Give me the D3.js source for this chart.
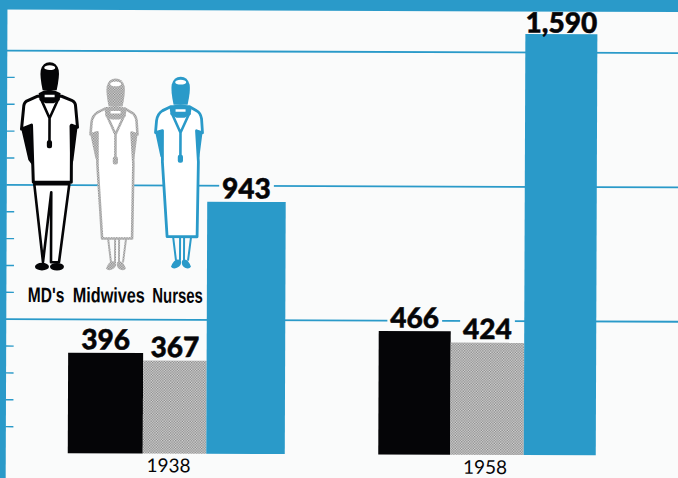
<!DOCTYPE html>
<html>
<head>
<meta charset="utf-8">
<script src="https://cdn.jsdelivr.net/npm/d3@7"></script>
<style>
  html, body { margin: 0; padding: 0; background: #fafbfb; }
  svg { display: block; }
</style>
</head>
<body>
<script>
// data
var years = ["1938", "1958"];
var categories = ["MD's", "Midwives", "Nurses"];
var values1938 = [396, 367, 943];
var values1958 = [466, 424, 1590];
var gridValues = [500, 1000, 1500];
var minorValues = [100, 200, 300, 400, 600, 700, 800, 900, 1100, 1200, 1300, 1400];

var width = 678, height = 478;
var blue = "#2a9ac9", paper = "#fafbfb", ink = "#050507";

var svg = d3.select("body").append("svg")
    .attr("width", width)
    .attr("height", height);

// the checker screen used for the midwives
var defs = svg.append("defs");
var screen = defs.append("pattern")
    .attr("id", "screen")
    .attr("width", 2.6)
    .attr("height", 2.6)
    .attr("patternUnits", "userSpaceOnUse");
screen.append("rect").attr("width", 2.6).attr("height", 2.6).attr("fill", "#d8d8d8");
screen.append("rect").attr("width", 1.3).attr("height", 1.3).attr("fill", "#868686");
screen.append("rect").attr("x", 1.3).attr("y", 1.3).attr("width", 1.3).attr("height", 1.3).attr("fill", "#868686");

var colors = d3.scaleOrdinal(categories, [ink, "url(#screen)", blue]);

// the page was scanned slightly crooked
var g = svg.append("g").attr("transform", "rotate(0.22)");

// printed axis: the rules keep 100 units per step
var yAxis = d3.scaleLinear().domain([0, 1500]).range([453, 50]);

g.append("g")
    .attr("transform", "translate(7,0)")
    .call(d3.axisRight(yAxis).tickValues(minorValues).tickSize(8).tickFormat(""))
    .call(function(a) { a.select(".domain").remove(); })
    .selectAll("line").attr("stroke", blue).attr("stroke-width", 1.4);

g.append("g")
    .attr("transform", "translate(7,0)")
    .call(d3.axisRight(yAxis).tickValues(gridValues).tickSize(680).tickFormat(""))
    .call(function(a) { a.select(".domain").remove(); })
    .selectAll("line").attr("stroke", blue).attr("stroke-width", 1.8);

// the bars do not sit exactly on the printed rules, so each group gets its own scale
var yBars = {
  "1938": d3.scaleLinear().domain([0, 396, 943]).range([453, 352.5, 201]),
  "1958": d3.scaleLinear().domain([0, 1590]).range([453, 32])
};
// bar edges by index, the 1938 widths are uneven
var xBars = {
  "1938": d3.scaleLinear().domain([0, 1, 2, 3]).range([69.5, 144.5, 208, 286.5]),
  "1958": d3.scaleLinear().domain([0, 1, 2, 3]).range([380, 452, 525.5, 597.5])
};
var yearValues = { "1938": values1938, "1958": values1958 };
var yearOffsets = d3.scaleOrdinal(years, [[-6, 471.5], [-2, 472]]);

var maskLayer = g.append("g");
var barLayer = g.append("g");

// frame goes over the label masks
g.append("rect").attr("x", -10).attr("y", -10).attr("width", width + 20).attr("height", 19.5).attr("fill", blue);
g.append("rect").attr("x", -10).attr("y", -10).attr("width", 17.5).attr("height", height + 20).attr("fill", blue);

var textLayer = g.append("g");

years.forEach(function(year) {
  var x = xBars[year], y = yBars[year];

  barLayer.selectAll(".bar" + year)
    .data(yearValues[year])
    .enter().append("rect")
      .attr("class", "bar" + year)
      .attr("x", function(d, i) { return x(i); })
      .attr("width", function(d, i) { return x(i + 1) - x(i); })
      .attr("y", function(d) { return y(d); })
      .attr("height", function(d) { return y(0) - y(d); })
      .attr("fill", function(d, i) { return colors(categories[i]); });

  textLayer.selectAll(".val" + year)
    .data(yearValues[year])
    .enter().append("text")
      .attr("class", "val" + year)
      .attr("x", function(d, i) { return (x(i) + x(i + 1)) / 2; })
      // the tallest label sits right on its bar
      .attr("y", function(d) { return y(d) - (d > 1000 ? 1.5 : 3.5); })
      .attr("text-anchor", "middle")
      .attr("font-family", "Lato, sans-serif")
      .attr("font-weight", 900)
      .attr("font-size", 28)
      .attr("stroke", ink)
      .attr("stroke-width", 0.5)
      .attr("fill", ink)
      .text(function(d) { return d3.format(",")(d); })
      .each(function() {
        // paper behind the label breaks the rule it crosses
        var b = this.getBBox();
        maskLayer.append("rect")
          .attr("x", b.x - 3).attr("y", b.y + 4)
          .attr("width", b.width + 6).attr("height", b.height - 6)
          .attr("fill", paper);
      });

  textLayer.append("text")
    .attr("x", (x(1) + x(2)) / 2 + yearOffsets(year)[0])
    .attr("y", yearOffsets(year)[1])
    .attr("text-anchor", "middle")
    .attr("font-family", "Lato, sans-serif")
    .attr("font-size", 19)
    .attr("fill", ink)
    .text(year);
});

// pictograms
function drawLegs(f, c, dress) {
  if (dress) {
    f.append("path")
      .attr("d", "M109,238L112,262M116,238L116,262M120,238L120,262M127,238L124,262")
      .attr("fill", "none").attr("stroke", c).attr("stroke-width", 2);
    f.append("path")
      .attr("d", "M107,268Q111,258 117,262Q118,267 113,269Q109,271 107,268ZM118,262Q123,258 127,268Q125,271 121,269Q117,267 118,262Z")
      .attr("fill", c);
  } else {
    f.append("path")
      .attr("d", "M35,184L70,184L60,262L52,262L52,192L44,262Z")
      .attr("fill", "#fff").attr("stroke", c).attr("stroke-width", 2.6).attr("stroke-linejoin", "round");
    f.selectAll(".foot").data([43, 58]).enter().append("ellipse")
      .attr("cx", function(d) { return d; }).attr("cy", 266.5)
      .attr("rx", 7).attr("ry", 3.8).attr("fill", c);
  }
}

function drawTop(f, c, cx, top, bodyPath, armPath, sw) {
  f.append("path").attr("d", bodyPath)
    .attr("fill", "#fff").attr("stroke", c).attr("stroke-width", sw).attr("stroke-linejoin", "round");
  f.append("path").attr("d", armPath).attr("fill", c);
  // hood runs down into the collar, with a pale patch at the top
  f.append("path")
    .attr("d", "M" + (cx - 7) + "," + (top + 28) + "Q" + (cx - 10) + "," + (top + 14) + " " + (cx - 9) + "," + (top + 8) +
      "Q" + (cx - 7) + "," + top + " " + cx + "," + top + "Q" + (cx + 7) + "," + top + " " + (cx + 9) + "," + (top + 8) +
      "Q" + (cx + 10) + "," + (top + 14) + " " + (cx + 7) + "," + (top + 28) + "Z")
    .attr("fill", c);
  f.append("ellipse").attr("cx", cx).attr("cy", top + 5.5).attr("rx", 5.5).attr("ry", 2.4).attr("fill", "#fff");
  // collar and stethoscope
  f.append("path")
    .attr("d", "M" + (cx - 11) + "," + (top + 31) + "Q" + cx + "," + (top + 24) + " " + (cx + 11) + "," + (top + 31) +
      "L" + (cx + 10) + "," + (top + 38) + "L" + (cx + 4) + "," + (top + 41) + "L" + (cx - 4) + "," + (top + 41) + "L" + (cx - 10) + "," + (top + 38) + "Z")
    .attr("fill", c);
  f.append("rect").attr("x", cx - 5).attr("y", top + 32.5).attr("width", 10).attr("height", 2.6).attr("fill", "#fff");
  f.append("path")
    .attr("d", "M" + (cx - 9) + "," + (top + 36) + "L" + cx + "," + (top + 56) + "L" + (cx + 9) + "," + (top + 36) + "M" + cx + "," + (top + 56) + "L" + cx + "," + (top + 84))
    .attr("fill", "none").attr("stroke", c).attr("stroke-width", 2.6);
  f.append("rect").attr("x", cx - 2.6).attr("y", top + 78).attr("width", 5.2).attr("height", 8).attr("rx", 2).attr("fill", c);
}

var md = g.append("g");
drawLegs(md, ink, false);
drawTop(md, ink, 50, 62,
  "M38,96L27,101Q24,103 24,108L22,129L32,125L34,182L72,182L72,125L78,127L76,106Q76,102 72,100L62,96Z",
  "M22,130L31,125L32,146L33,165L29,160Z M70,125L78,127L74,160L71,172Z", 3);

function dressFigure(c, dx, dy, sw) {
  var f = g.append("g").attr("transform", "translate(" + dx + "," + dy + ")");
  drawLegs(f, c, true);
  drawTop(f, c, 116, 78,
    "M106,108L98,112Q93,115 92,122L91,134L98,132L98,163L103,238L133,238L134,163L132,132L138,134L137,120Q136,114 132,112L125,108Z",
    "M91,135L98,132L99,162L96,158Z M132,132L138,134L135,158L133,164Z", sw);
  return f;
}
dressFigure("url(#screen)", 0, 0, 2.6);
dressFigure(blue, 65, -2, 2.8);

// labels under the figures, squeezed sideways since no condensed face is installed
var labelStarts = d3.scaleOrdinal(categories, [29, 74, 153.5]);
var labelWidths = d3.scaleOrdinal(categories, [36.5, 72, 50.5]);
g.selectAll(".fig-label")
  .data(categories)
  .enter().append("text")
    .attr("class", "fig-label")
    .attr("font-family", "'Liberation Sans', sans-serif")
    .attr("font-weight", 700)
    .attr("font-size", 21)
    .attr("fill", ink)
    .text(function(d) { return d; })
    .attr("transform", function(d) {
      var k = labelWidths(d) / this.getComputedTextLength();
      return "translate(" + labelStarts(d) + ",302) scale(" + k + ",1)";
    });
</script>
</body>
</html>
